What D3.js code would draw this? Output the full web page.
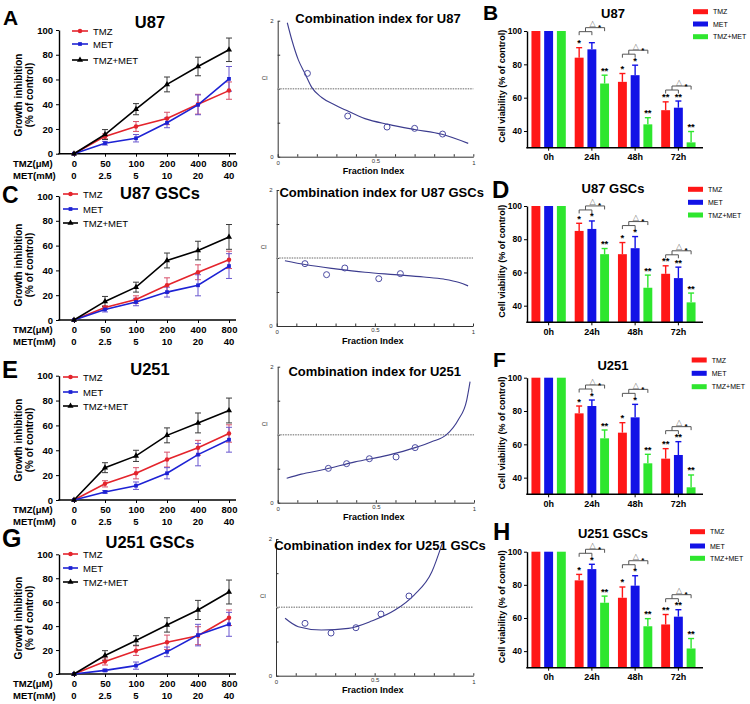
<!DOCTYPE html>
<html><head><meta charset="utf-8">
<script src="https://cdn.jsdelivr.net/npm/d3@7"></script>
<style>body{margin:0;background:#fff}svg{display:block}</style>
</head><body>
<svg id="c" width="750" height="704"></svg>
<script>
// ---------------- DATA ----------------
const doseTMZ = ["0","50","100","200","400","800"];
const doseMET = ["0","2.5","5","10","20","40"];
const seriesNames = ["TMZ","MET","TMZ+MET"];
const timePoints = ["0h","24h","48h","72h"];
const growthTicks = [0,20,40,60,80,100];
const viabilityTicks = [40,60,80,100];

// Growth inhibition (% of control)
const giU87_TMZ = [0,14,22,28.5,40,51];
const giU87_TMZ_err = [0,2,4,5,8,7];
const giU87_MET = [0,8.5,12.5,25,39.5,60.5];
const giU87_MET_err = [0,1.5,3,4,8,10];
const giU87_CMB = [0,15.5,36,56,70.5,84];
const giU87_CMB_err = [0,4,4.5,6,7.5,9.5];

const giU87G_TMZ = [0,10,16.5,28,38.5,48.5];
const giU87G_TMZ_err = [0,1.5,3,6,6,7];
const giU87G_MET = [0,8.5,14.5,22.5,28,43.5];
const giU87G_MET_err = [0,2,3,4,8.5,10];
const giU87G_CMB = [0,15,26.5,48,56,67];
const giU87G_CMB_err = [0,4,4,6,7.5,10];

const giU251_TMZ = [0,13,21.5,32.5,42,53.5];
const giU251_TMZ_err = [0,2.5,4.5,6,6,7];
const giU251_MET = [0,6.5,11.5,21.5,36.5,48.5];
const giU251_MET_err = [0,1,3,4.5,9,10];
const giU251_CMB = [0,26,35.5,52,62,72];
const giU251_CMB_err = [0,4,4.5,6,8,10];

const giU251G_TMZ = [0,10.5,19.5,26.5,32,47];
const giU251G_TMZ_err = [0,3,4,6,7.5,6.5];
const giU251G_MET = [0,3,7,18.5,32.5,41.5];
const giU251G_MET_err = [0,1,3,4,9,10];
const giU251G_CMB = [0,15.5,28,41,53.5,68.5];
const giU251G_CMB_err = [0,4,4,6,8,10];

// Combination index: fitted curve samples and data points (Fa, CI)
const ciU87_curveFa = [0.049,0.072,0.106,0.14,0.174,0.225,0.293,0.344,0.446,0.566,0.70,0.84,0.974];
const ciU87_curveCI = [1.97,1.72,1.42,1.22,1.02,0.87,0.76,0.69,0.56,0.475,0.40,0.33,0.196];
const ciU87_ptFa = [0.152,0.358,0.559,0.70,0.843];
const ciU87_ptCI = [1.225,0.598,0.436,0.417,0.333];

const ciU87G_curveFa = [0.042,0.15,0.3,0.45,0.6,0.75,0.85,0.93,0.975];
const ciU87G_curveCI = [0.96,0.9,0.84,0.79,0.755,0.72,0.69,0.64,0.59];
const ciU87G_ptFa = [0.144,0.254,0.347,0.52,0.63];
const ciU87G_ptCI = [0.917,0.755,0.853,0.696,0.77];

const ciU251_curveFa = [0.046,0.12,0.224,0.394,0.564,0.70,0.784,0.86,0.92,0.963,0.98];
const ciU251_curveCI = [0.358,0.42,0.48,0.60,0.70,0.81,0.897,1.0,1.22,1.51,1.78];
const ciU251_ptFa = [0.258,0.351,0.467,0.603,0.70];
const ciU251_ptCI = [0.505,0.574,0.647,0.672,0.81];

const ciU251G_curveFa = [0.046,0.113,0.23,0.367,0.485,0.603,0.70,0.79,0.843];
const ciU251G_curveCI = [0.84,0.717,0.668,0.693,0.80,0.96,1.18,1.52,1.94];
const ciU251G_ptFa = [0.147,0.279,0.405,0.532,0.674];
const ciU251G_ptCI = [0.766,0.624,0.702,0.902,1.166];

// Cell viability (% of control) at 0h,24h,48h,72h
const cvU87_TMZ = [100,84,69.5,52.5];   const cvU87_TMZ_err = [0,6,5,5];
const cvU87_MET = [100,89,73.5,54];     const cvU87_MET_err = [0,4,6,4];
const cvU87_CMB = [100,68.5,44,33.2];   const cvU87_CMB_err = [0,5,4,6.5];

const cvU87G_TMZ = [100,85,71,59.2];    const cvU87G_TMZ_err = [0,4.6,7,4.8];
const cvU87G_MET = [100,86.2,74.6,56.6];const cvU87G_MET_err = [0,4.8,7,6.6];
const cvU87G_CMB = [100,71,50.8,42];    const cvU87G_CMB_err = [0,3.4,7.6,5.6];

const cvU251_TMZ = [100,78.6,67,51.4];  const cvU251_TMZ_err = [0,4.4,6,6];
const cvU251_MET = [100,83,76.2,53.6];  const cvU251_MET_err = [0,3.6,7.8,8];
const cvU251_CMB = [100,63.6,48.6,34.2];const cvU251_CMB_err = [0,5,5.4,7.4];

const cvU251G_TMZ = [100,82.7,72.2,56.1]; const cvU251G_TMZ_err = [0,3.6,6.5,6];
const cvU251G_MET = [100,89.5,79.5,60.8]; const cvU251G_MET_err = [0,2.9,6,4.2];
const cvU251G_CMB = [100,69.2,55,41.6];   const cvU251G_CMB_err = [0,4,4.6,6];

const sigU87 = [["","",""],["*","","**"],["*","*","**"],["**","**","**"]];
const sigStd = [["","",""],["*","*","**"],["*","*","**"],["**","**","**"]];

// ---------------- DRAWING ----------------
const FONT = '"Liberation Sans", Arial, Helvetica, sans-serif';
const svg = d3.select("#c");
svg.append("rect").attr("width",750).attr("height",704).attr("fill","#fff");

function txt(g, x, y, s, size, weight, anchor, fill) {
  return g.append("text").attr("x",x).attr("y",y).text(s)
    .attr("font-family",FONT).attr("font-size",size)
    .attr("font-weight",weight||"normal").attr("text-anchor",anchor||"start")
    .attr("fill",fill||"#000");
}
function styleAxis(sel, size, bold, color) {
  sel.attr("font-family",FONT).attr("font-size",size);
  sel.selectAll("text").attr("font-weight",bold?"bold":"normal").attr("fill",color||"#000");
  sel.selectAll("path.domain, .tick line").attr("stroke",color||"#000");
}

const lineStyles = [
  {color:"#e4242c", err:"#d8506a", sym:d3.symbolCircle, size:16},
  {color:"#1d22d4", err:"#6a58cf", sym:d3.symbolSquare, size:14},
  {color:"#000000", err:"#3a3a3a", sym:d3.symbolTriangle, size:16}
];

function lineChart(L, vals, errs) {
  const g = svg.append("g");
  const x = d3.scalePoint().domain(d3.range(doseTMZ.length)).range([74,229]);
  const y = d3.scaleLinear().domain([0,100]).range([L.y0, L.y100]);
  const ya = g.append("g").attr("transform","translate(59,0)")
    .call(d3.axisLeft(y).tickValues(growthTicks).tickSize(3).tickSizeOuter(0).tickPadding(3));
  styleAxis(ya, 9.5, true);
  ya.select(".domain").attr("stroke-width",1.4);
  g.append("line").attr("x1",58.3).attr("x2",236).attr("y1",L.y0).attr("y2",L.y0)
    .attr("stroke","#000").attr("stroke-width",1.4);
  const xa = g.append("g").attr("transform",`translate(0,${L.y0})`)
    .call(d3.axisBottom(x).tickSize(3).tickPadding(3.5).tickFormat(i=>doseTMZ[i]));
  xa.select(".domain").remove();
  styleAxis(xa, 9.5, true);
  doseMET.forEach((d,i)=>txt(g, x(i), L.y0+25, d, 9.5, "bold", "middle"));
  txt(g, 13, L.y0+13, "TMZ(μM)", 9.5, "bold");
  txt(g, 13, L.y0+25, "MET(mM)", 9.5, "bold");
  // y label
  txt(g, 0, 0, "Growth inhibition", 10, "bold", "middle")
    .attr("transform",`translate(22,${L.labelCy}) rotate(-90)`);
  txt(g, 0, 0, "(% of control)", 10, "bold", "middle")
    .attr("transform",`translate(33,${L.labelCy}) rotate(-90)`);
  // series
  vals.forEach((v,k)=>{
    const st = lineStyles[k];
    const e = errs[k];
    const eg = g.append("g").attr("stroke",st.err).attr("stroke-width",1);
    v.forEach((d,i)=>{
      if (!e[i]) return;
      eg.append("line").attr("x1",x(i)).attr("x2",x(i)).attr("y1",y(d-e[i])).attr("y2",y(d+e[i]));
      eg.append("line").attr("x1",x(i)-3).attr("x2",x(i)+3).attr("y1",y(d-e[i])).attr("y2",y(d-e[i]));
      eg.append("line").attr("x1",x(i)-3).attr("x2",x(i)+3).attr("y1",y(d+e[i])).attr("y2",y(d+e[i]));
    });
  });
  vals.forEach((v,k)=>{
    const st = lineStyles[k];
    g.append("path").datum(v).attr("fill","none").attr("stroke",st.color).attr("stroke-width",1.6)
      .attr("d", d3.line().x((d,i)=>x(i)).y(d=>y(d)));
    g.selectAll(null).data(v).enter().append("path")
      .attr("transform",(d,i)=>`translate(${x(i)},${y(d)})`)
      .attr("d", d3.symbol().type(st.sym).size(st.size)).attr("fill",st.color);
  });
  // legend
  seriesNames.forEach((s,k)=>{
    const st = lineStyles[k], ly = L.leg[k];
    g.append("line").attr("x1",L.legX).attr("x2",L.legX+L.legW).attr("y1",ly).attr("y2",ly)
      .attr("stroke",st.color).attr("stroke-width",1.6);
    g.append("path").attr("transform",`translate(${L.legX+L.legW/2},${ly})`)
      .attr("d", d3.symbol().type(st.sym).size(st.size)).attr("fill",st.color);
    txt(g, L.legX+L.legW+5, ly+3.5, s, 9.5, "normal");
  });
  txt(g, L.tx, L.ty, L.title, 16.5, "bold", "middle");
  txt(g, L.lx, L.ly, L.letter, L.ls, "bold");
}

function ciChart(L, cFa, cCI, pFa, pCI) {
  const g = svg.append("g");
  const x = d3.scaleLinear().domain([0,1]).range([L.x0, L.x1]);
  const y = d3.scaleLinear().domain([0,2]).range([L.y0, L.y2]);
  const ax = g.append("g").attr("transform",`translate(0,${L.y0})`)
    .call(d3.axisBottom(x).tickValues(d3.range(0,11).map(i=>i/10)).tickSize(-2.5).tickSizeOuter(0).tickPadding(3)
      .tickFormat(d=> d===0?"0":(Math.abs(d-0.5)<1e-9?"0.5":(d===1?"1":""))));
  styleAxis(ax, 6, false, "#333");
  ax.selectAll(".tick text").attr("dy", d=> Math.abs(d-0.5)<1e-9 ? "0.55em" : "0.85em");
  const ay = g.append("g").attr("transform",`translate(${L.x0},0)`)
    .call(d3.axisLeft(y).tickValues([0,0.5,1,1.5,2]).tickSize(-2.5).tickSizeOuter(0).tickPadding(4)
      .tickFormat(d=> d===0?"0":(d===2?"2":"")));
  styleAxis(ay, 6, false, "#333");
  txt(g, L.x0-13, y(1.13), "CI", 6, "normal", "middle", "#333");
  g.append("line").attr("x1",L.x0).attr("x2",L.x1).attr("y1",y(1)).attr("y2",y(1))
    .attr("stroke","#9a9a9a").attr("stroke-width",1.5).attr("stroke-dasharray","1.5,1");
  const pts = cFa.map((f,i)=>[f,cCI[i]]);
  g.append("path").datum(pts).attr("fill","none").attr("stroke","#3c3c8e").attr("stroke-width",1.1)
    .attr("d", d3.line().x(d=>x(d[0])).y(d=>y(d[1])).curve(d3.curveMonotoneX));
  g.selectAll(null).data(pFa).enter().append("circle")
    .attr("cx",d=>x(d)).attr("cy",(d,i)=>y(pCI[i])).attr("r",3)
    .attr("fill","none").attr("stroke","#4b4ba2").attr("stroke-width",1);
  txt(g, L.tx, L.ty, L.title, 13, "bold", "middle");
  txt(g, (L.x0+L.x1)/2-2, L.y0+17.5, "Fraction Index", 9, "bold", "middle");
}

const barColors = ["#ff1717","#1212e6","#2ee62e"];
function barChart(L, vals, errs, sig) {
  const g = svg.append("g");
  const x = d3.scaleBand().domain(timePoints).range([527,700]);
  const xs = d3.scaleBand().domain(d3.range(3)).range([0,x.bandwidth()]).paddingInner(0.3).paddingOuter(0.35);
  const y = d3.scaleLinear().domain([30,100]).range([L.yb, L.yt]);
  const cx = (t,k)=> x(timePoints[t]) + xs(k) + xs.bandwidth()/2;
  // bars
  vals.forEach((v,k)=>{
    g.selectAll(null).data(v).enter().append("rect")
      .attr("x",(d,i)=>x(timePoints[i])+xs(k)).attr("width",xs.bandwidth())
      .attr("y",d=>y(d)).attr("height",d=>L.yb-y(d)).attr("fill",barColors[k]);
    const e = errs[k];
    v.forEach((d,i)=>{
      if (!e[i]) return;
      const c = cx(i,k);
      g.append("line").attr("x1",c).attr("x2",c).attr("y1",y(d)).attr("y2",y(d+e[i]))
        .attr("stroke",barColors[k]).attr("stroke-width",1.4);
      g.append("line").attr("x1",c-3).attr("x2",c+3).attr("y1",y(d+e[i])).attr("y2",y(d+e[i]))
        .attr("stroke",barColors[k]).attr("stroke-width",1.4);
      if (sig[i][k]) txt(g, c, y(d+e[i])-1.5, sig[i][k], 9.5, "bold", "middle");
    });
  });
  // brackets
  for (let i=1;i<timePoints.length;i++) {
    const top = Math.min(y(vals[0][i]+errs[0][i]), y(vals[1][i]+errs[1][i]));
    const lo = top - 11, hi = lo - 4;
    const a = cx(i,0), b = cx(i,1), c = cx(i,2), m = (a+b)/2;
    g.append("path").attr("fill","none").attr("stroke","#555").attr("stroke-width",1)
      .attr("d",`M${a},${lo+3.5}V${lo}H${b}V${lo+3.5}M${m},${lo}V${hi}H${c}V${hi+3.5}`);
    const mid = (m+c)/2;
    txt(g, mid-2.5, hi-1.5, "△", 8, "normal", "middle", "#777").attr("font-family","DejaVu Sans");
    txt(g, mid+4.5, hi+2.5, "*", 8, "bold", "middle");
  }
  // axes
  const ya = g.append("g").attr("transform","translate(527,0)")
    .call(d3.axisLeft(y).tickValues(viabilityTicks).tickSize(3).tickSizeOuter(0).tickPadding(2));
  styleAxis(ya, 8.5, true);
  ya.select(".domain").attr("stroke-width",1.4);
  g.append("line").attr("x1",526.3).attr("x2",703).attr("y1",L.yb).attr("y2",L.yb)
    .attr("stroke","#000").attr("stroke-width",1.4);
  const xa = g.append("g").attr("transform",`translate(0,${L.yb})`)
    .call(d3.axisBottom(x).tickSize(3).tickPadding(3));
  xa.select(".domain").remove();
  styleAxis(xa, 9, true);
  txt(g, 0, 0, "Cell viability (% of control)", 9, "bold", "middle")
    .attr("transform",`translate(505,${(L.yt+L.yb)/2-3}) rotate(-90)`);
  // legend
  seriesNames.forEach((s,k)=>{
    g.append("rect").attr("x",L.legX).attr("y",L.leg[k]-2.5).attr("width",15).attr("height",5).attr("fill",barColors[k]);
    txt(g, L.legX+20, L.leg[k]+2.5, s, 7, "normal");
  });
  txt(g, 613, L.ty, L.title, 13, "bold", "middle");
  txt(g, L.lx, L.ly, L.letter, L.ls, "bold");
}

// ---------- panels ----------
lineChart({y100:30, y0:153.7, labelCy:95, leg:[31,44,60], legX:72, legW:16, title:"U87", tx:150, ty:28, letter:"A", lx:3, ly:25, ls:21},
  [giU87_TMZ, giU87_MET, giU87_CMB], [giU87_TMZ_err, giU87_MET_err, giU87_CMB_err]);
lineChart({y100:196, y0:320, labelCy:265, leg:[194,209,223], legX:63, legW:15, title:"U87 GSCs", tx:160, ty:199, letter:"C", lx:2, ly:203, ls:23},
  [giU87G_TMZ, giU87G_MET, giU87G_CMB], [giU87G_TMZ_err, giU87G_MET_err, giU87G_CMB_err]);
lineChart({y100:375.7, y0:500, labelCy:440, leg:[377,392,406], legX:63, legW:15, title:"U251", tx:150, ty:375, letter:"E", lx:2, ly:378, ls:24},
  [giU251_TMZ, giU251_MET, giU251_CMB], [giU251_TMZ_err, giU251_MET_err, giU251_CMB_err]);
lineChart({y100:554.3, y0:674, labelCy:618, leg:[554,568,582], legX:63, legW:15, title:"U251 GSCs", tx:150, ty:548, letter:"G", lx:2, ly:547, ls:25},
  [giU251G_TMZ, giU251G_MET, giU251G_CMB], [giU251G_TMZ_err, giU251G_MET_err, giU251G_CMB_err]);

ciChart({x0:277.7, x1:473.3, y0:156.7, y2:20.7, title:"Combination index for U87", tx:378, ty:23},
  ciU87_curveFa, ciU87_curveCI, ciU87_ptFa, ciU87_ptCI);
ciChart({x0:276.7, x1:473, y0:326, y2:190, title:"Combination index for U87 GSCs", tx:381.7, ty:197},
  ciU87G_curveFa, ciU87G_curveCI, ciU87G_ptFa, ciU87G_ptCI);
ciChart({x0:277.7, x1:474, y0:502.7, y2:366.7, title:"Combination index for U251", tx:374.7, ty:376},
  ciU251_curveFa, ciU251_curveCI, ciU251_ptFa, ciU251_ptCI);
ciChart({x0:276, x1:473.3, y0:675.7, y2:539, title:"Combination index for U251 GSCs", tx:380, ty:550},
  ciU251G_curveFa, ciU251G_curveCI, ciU251G_ptFa, ciU251G_ptCI);

barChart({yt:31, yb:147.7, leg:[11.7,24,36.7], legX:693, title:"U87", ty:18, letter:"B", lx:483, ly:20, ls:21},
  [cvU87_TMZ, cvU87_MET, cvU87_CMB], [cvU87_TMZ_err, cvU87_MET_err, cvU87_CMB_err], sigU87);
barChart({yt:206, yb:322.3, leg:[189.3,202.3,215], legX:688, title:"U87 GSCs", ty:193, letter:"D", lx:492, ly:198, ls:24},
  [cvU87G_TMZ, cvU87G_MET, cvU87G_CMB], [cvU87G_TMZ_err, cvU87G_MET_err, cvU87G_CMB_err], sigStd);
barChart({yt:377.7, yb:494.3, leg:[360,373.3,386.7], legX:691.7, title:"U251", ty:370, letter:"F", lx:493, ly:367, ls:21},
  [cvU251_TMZ, cvU251_MET, cvU251_CMB], [cvU251_TMZ_err, cvU251_MET_err, cvU251_CMB_err], sigStd);
barChart({yt:551.7, yb:667.7, leg:[531.7,546,558.3], legX:690, title:"U251 GSCs", ty:538, letter:"H", lx:493, ly:540, ls:24},
  [cvU251G_TMZ, cvU251G_MET, cvU251G_CMB], [cvU251G_TMZ_err, cvU251G_MET_err, cvU251G_CMB_err], sigStd);
</script>
</body></html>
